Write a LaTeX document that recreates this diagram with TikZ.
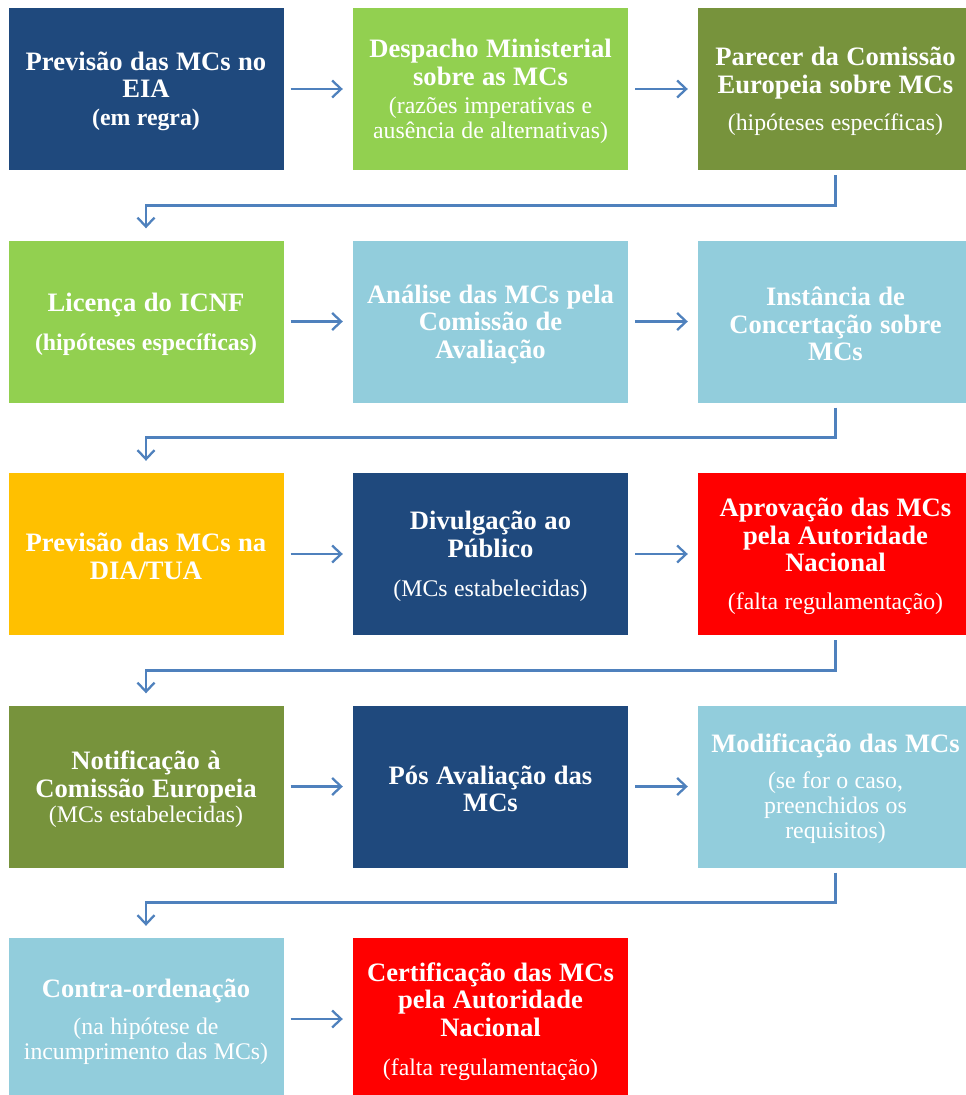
\documentclass[tikz,border=0pt]{standalone}
\usepackage{fontspec}
\setmainfont{Liberation Serif}
\usetikzlibrary{arrows.meta}

\definecolor{navy}{HTML}{1F497D}
\definecolor{lime}{HTML}{92D050}
\definecolor{olive}{HTML}{77933C}
\definecolor{sky}{HTML}{92CDDC}
\definecolor{gold}{HTML}{FFC000}
\definecolor{alert}{HTML}{FF0000}
\definecolor{link}{HTML}{4F81BD}

% title lines (bold) and explanatory lines (regular / bold)
\newcommand\mctitle[1]{{\fontsize{26.6}{27.5}\selectfont\bfseries\spaceskip=.28em\relax #1\par}}
\newcommand\mcsub[1]{{\fontsize{23.8}{25}\selectfont\spaceskip=.27em\relax #1\par}}
\newcommand\mcsubb[1]{{\fontsize{23.8}{25}\selectfont\bfseries\spaceskip=.27em\relax #1\par}}
\newcommand\mcgap[1]{\vspace*{#1pt}}

\tikzset{
  stage/.style={rectangle, draw=none, fill=#1, text=white,
    minimum width=275pt, minimum height=162pt, inner sep=0pt,
    text width=272pt, align=center,
    execute at end node={\par\vspace*{-5pt}}},
  flow/.style={draw=link, line width=2.6pt,
    -{Straight Barb[length=9pt,width=17pt,line width=2.3pt]},
    shorten <=7pt, shorten >=10pt},
  turn/.style={draw=link, line width=2.6pt,
    -{Straight Barb[length=9pt,width=17pt,line width=2.3pt]},
    shorten <=5pt, shorten >=12pt}
}

\begin{document}
\begin{tikzpicture}[x=1pt,y=-1pt]
\useasboundingbox (0,0) rectangle (966,1095);
\clip (0,0) rectangle (966,1095);

% row 1
\node[stage=navy]  (b1) at (146,89)   {\mctitle{Previsão das MCs no\\EIA}\mcgap{3}\mcsubb{(em regra)}};
\node[stage=lime]  (b2) at (490.5,89) {\mctitle{Despacho Ministerial\\sobre as MCs}\mcgap{3}\mcsub{(razões imperativas e\\ausência de alternativas)}};
\node[stage=olive] (b3) at (835.5,89) {\mctitle{Parecer da Comissão\\Europeia sobre MCs}\mcgap{12}\mcsub{(hipóteses específicas)}};

% row 2
\node[stage=lime] (b4) at (146,321.5)   {\mctitle{Licença do ICNF}\mcgap{14}\mcsubb{(hipóteses específicas)}};
\node[stage=sky]  (b5) at (490.5,321.5) {\mctitle{Análise das MCs pela\\Comissão de\\Avaliação}};
\node[stage=sky]  (b6) at (835.5,321.5) {\mctitle{Instância de\\Concertação sobre\\MCs}};

% row 3
\node[stage=gold]  (b7) at (146,554)   {\mctitle{Previsão das MCs na\\DIA/TUA}};
\node[stage=navy]  (b8) at (490.5,554) {\mctitle{Divulgação ao\\Público}\mcgap{14}\mcsub{(MCs estabelecidas)}};
\node[stage=alert] (b9) at (835.5,554) {\mctitle{Aprovação das MCs\\pela Autoridade\\Nacional}\mcgap{13}\mcsub{(falta regulamentação)}};

% row 4
\node[stage=olive] (b10) at (146,786.5)   {\mctitle{Notificação à\\Comissão Europeia}\mcsub{(MCs estabelecidas)}};
\node[stage=navy]  (b11) at (490.5,786.5) {\mctitle{Pós Avaliação das\\MCs}};
\node[stage=sky]   (b12) at (835.5,786.5) {\mctitle{Modificação das MCs}\mcgap{11}\mcsub{(se for o caso,\\preenchidos os\\requisitos)}};

% row 5
\node[stage=sky]   (b13) at (146,1019)   {\mctitle{Contra-ordenação}\mcgap{12}\mcsub{(na hipótese de\\incumprimento das MCs)}};
\node[stage=alert] (b14) at (490.5,1019) {\mctitle{Certificação das MCs\\pela Autoridade\\Nacional}\mcgap{14}\mcsub{(falta regulamentação)}};

% arrows within each row
\draw[flow] (b1.east) -- (b2.west);
\draw[flow] (b2.east) -- (b3.west);
\draw[flow] (b4.east) -- (b5.west);
\draw[flow] (b5.east) -- (b6.west);
\draw[flow] (b7.east) -- (b8.west);
\draw[flow] (b8.east) -- (b9.west);
\draw[flow] (b10.east) -- (b11.west);
\draw[flow] (b11.east) -- (b12.west);
\draw[flow] (b13.east) -- (b14.west);

% elbow connectors from the end of a row to the start of the next
\draw[turn] (b3.south) -- ++(0,35) -| (b4.north);
\draw[turn] (b6.south) -- ++(0,35) -| (b7.north);
\draw[turn] (b9.south) -- ++(0,35) -| (b10.north);
\draw[turn] (b12.south) -- ++(0,35) -| (b13.north);
\end{tikzpicture}
\end{document}
